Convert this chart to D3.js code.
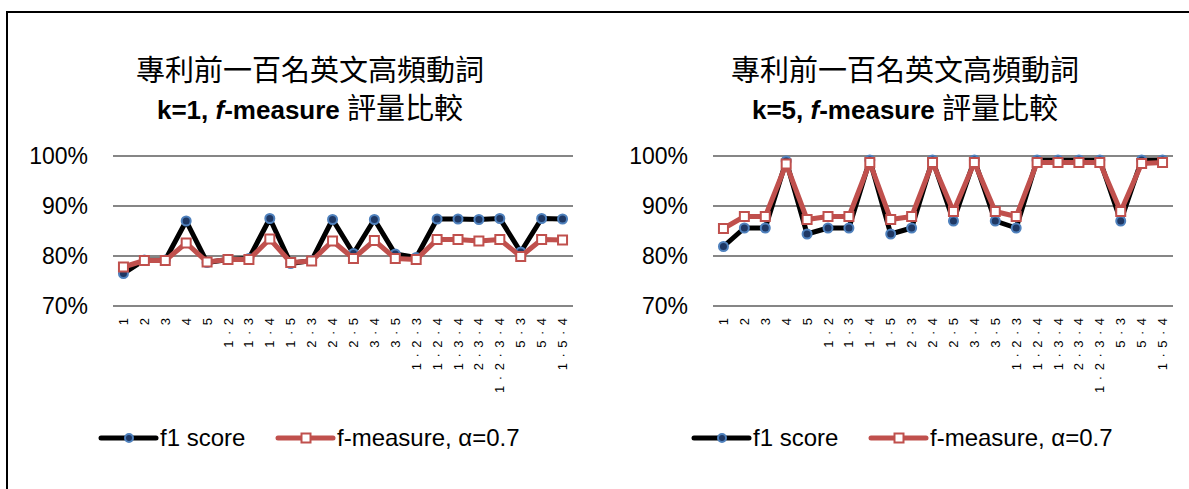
<!DOCTYPE html>
<html><head><meta charset="utf-8">
<script src="https://cdn.jsdelivr.net/npm/d3@7"></script>
<style>
html,body{margin:0;padding:0;background:#fff;}
svg{display:block;}
</style></head>
<body>
<svg id="c" width="1189" height="489"></svg>
<script>
const categories = ["1","2","3","4","5","1 · 2","1 · 3","1 · 4","1 · 5","2 · 3","2 · 4","2 · 5","3 · 4","3 · 5","1 · 2 · 3","1 · 2 · 4","1 · 3 · 4","2 · 3 · 4","1 · 2 · 3 · 4","5 · 3","5 · 4","1 · 5 · 4"];
const yTicks = [70, 80, 90, 100];
const titleLine1 = "專利前一百名英文高頻動詞";
const seriesNames = ["f1 score", "f-measure, α=0.7"];
const k1F1 = [76.5,79.2,79.2,87.0,78.7,79.3,79.5,87.5,78.5,79.1,87.3,80.5,87.3,80.4,79.7,87.4,87.4,87.3,87.5,80.8,87.5,87.4];
const k1Fm = [77.8,79.1,79.1,82.6,78.8,79.3,79.3,83.4,78.7,79.0,83.0,79.5,83.1,79.5,79.3,83.3,83.3,83.0,83.3,79.9,83.3,83.2];
const k5F1 = [81.9,85.6,85.6,99.0,84.4,85.6,85.6,99.2,84.4,85.6,99.2,87.0,99.2,87.0,85.6,99.2,99.2,99.2,99.2,87.0,99.2,99.2];
const k5Fm = [85.5,87.9,87.9,98.4,87.3,87.9,87.9,98.7,87.3,87.9,98.7,88.9,98.7,88.9,87.9,98.7,98.7,98.7,98.7,88.9,98.5,98.7];

const svg = d3.select("#c");
const FONT = "'Liberation Sans', Arial, 'Noto Sans CJK TC', sans-serif";
const CJK = "'Noto Sans CJK TC', 'Noto Sans CJK SC', sans-serif";

// frame (top and left lines)
svg.append("line").attr("x1",6).attr("x2",1189).attr("y1",12).attr("y2",12).attr("stroke","#000").attr("stroke-width",2);
svg.append("line").attr("x1",7).attr("x2",7).attr("y1",12).attr("y2",489).attr("stroke","#000").attr("stroke-width",2);

function panel(ox, kLabel, f1, fm, titleCx, legX) {
  const g = svg.append("g");
  const x = d3.scaleBand().domain(categories).range([ox + 113, ox + 573]);
  const y = d3.scaleLinear().domain([70, 100]).range([306, 156]);

  // title
  g.append("text").attr("x", titleCx).attr("y", 81).attr("text-anchor","middle")
    .attr("font-family", CJK).attr("font-size", 29).attr("fill","#000").text(titleLine1);
  const t2 = g.append("text").attr("x", titleCx).attr("y", 119).attr("text-anchor","middle")
    .attr("font-size", 26).attr("fill","#000");
  t2.append("tspan").attr("font-family", FONT).attr("font-weight","bold").text("k=" + kLabel + ", ");
  t2.append("tspan").attr("font-family", FONT).attr("font-weight","bold").attr("font-style","italic").text("f");
  t2.append("tspan").attr("font-family", FONT).attr("font-weight","bold").text("-measure ");
  t2.append("tspan").attr("font-family", CJK).attr("font-size", 29).text("評量比較");

  // gridlines
  g.selectAll(".grid").data(yTicks).join("line")
    .attr("x1", ox + 113).attr("x2", ox + 573)
    .attr("y1", d => y(d)).attr("y2", d => y(d))
    .attr("stroke", "#868686").attr("stroke-width", 2);

  // y axis
  const ya = g.append("g").attr("transform", `translate(${ox + 113},0)`)
    .call(d3.axisLeft(y).tickValues(yTicks).tickFormat(d => d + "%").tickSize(0).tickPadding(25));
  ya.select(".domain").remove();
  ya.selectAll("text").attr("font-family", FONT).attr("font-size", 23).attr("fill", "#000");

  // x axis labels
  const xa = g.append("g").attr("transform", `translate(0,306)`)
    .call(d3.axisBottom(x).tickSize(0).tickPadding(0));
  xa.select(".domain").remove();
  xa.selectAll("text")
    .attr("font-family", FONT).attr("font-size", 13).attr("fill", "#000")
    .attr("letter-spacing", "0.95px")
    .attr("text-anchor", "end")
    .attr("transform", "translate(0,11) rotate(-90)")
    .attr("x", 0).attr("y", 0).attr("dy", "0.35em");

  const line = d3.line().x((d, i) => x(categories[i]) + x.bandwidth() / 2).y(d => y(d));

  // series 1
  g.append("path").datum(f1).attr("d", line).attr("fill", "none")
    .attr("stroke", "#000").attr("stroke-width", 5).attr("stroke-linejoin", "round");
  g.selectAll(".c1").data(f1).join("circle")
    .attr("cx", (d, i) => x(categories[i]) + x.bandwidth() / 2).attr("cy", d => y(d))
    .attr("r", 4.5).attr("fill", "#1f3864").attr("stroke", "#4f81bd").attr("stroke-width", 2);

  // series 2
  g.append("path").datum(fm).attr("d", line).attr("fill", "none")
    .attr("stroke", "#c0504d").attr("stroke-width", 5).attr("stroke-linejoin", "round");
  g.selectAll(".s2").data(fm).join("rect")
    .attr("x", (d, i) => x(categories[i]) + x.bandwidth() / 2 - 4.5).attr("y", d => y(d) - 4.5)
    .attr("width", 9).attr("height", 9).attr("fill", "#fff").attr("stroke", "#c0504d").attr("stroke-width", 2);

  // legend
  const ly = 438;
  g.append("line").attr("x1", legX).attr("x2", legX + 55).attr("y1", ly).attr("y2", ly)
    .attr("stroke", "#000").attr("stroke-width", 5).attr("stroke-linecap", "round");
  g.append("circle").attr("cx", legX + 28).attr("cy", ly).attr("r", 4)
    .attr("fill", "#1f3864").attr("stroke", "#4f81bd").attr("stroke-width", 2);
  g.append("text").attr("x", legX + 59).attr("y", ly).attr("dy", "0.35em")
    .attr("font-family", FONT).attr("font-size", 24).attr("fill", "#000").text(seriesNames[0]);
  const l2 = legX + 177;
  g.append("line").attr("x1", l2).attr("x2", l2 + 55).attr("y1", ly).attr("y2", ly)
    .attr("stroke", "#c0504d").attr("stroke-width", 5).attr("stroke-linecap", "round");
  g.append("rect").attr("x", l2 + 28 - 4.5).attr("y", ly - 4.5).attr("width", 9).attr("height", 9)
    .attr("fill", "#fff").attr("stroke", "#c0504d").attr("stroke-width", 2);
  g.append("text").attr("x", l2 + 59).attr("y", ly).attr("dy", "0.35em")
    .attr("font-family", FONT).attr("font-size", 24).attr("fill", "#000").text(seriesNames[1]);
}

panel(0, "1", k1F1, k1Fm, 310, 101);
panel(600, "5", k5F1, k5Fm, 905, 694);
</script>
</body></html>
